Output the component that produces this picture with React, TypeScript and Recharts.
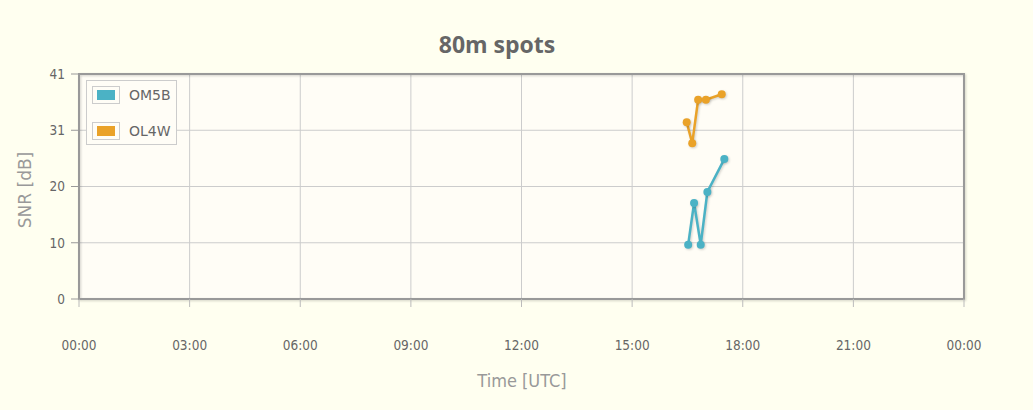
import { CartesianGrid, Legend, Line, LineChart, ReferenceArea, XAxis, YAxis } from 'recharts'

// hours UTC (decimal) and SNR in dB
const om5bTimes = [16.52, 16.68, 16.86, 17.04, 17.5]
const om5bSnr = [9.9, 17.5, 9.9, 19.5, 25.5]
const ol4wTimes = [16.48, 16.63, 16.79, 17.0, 17.43]
const ol4wSnr = [32.2, 28.4, 36.3, 36.3, 37.3]

const xTicks = [0, 3, 6, 9, 12, 15, 18, 21, 24]
const xTickLabels = ['00:00', '03:00', '06:00', '09:00', '12:00', '15:00', '18:00', '21:00', '00:00']
const yTicks = [0, 10.25, 20.5, 30.75, 41]
const yTickLabels = ['0', '10', '20', '31', '41']

const SERIES = [
  { name: 'OM5B', color: '#4bb2c5', times: om5bTimes, snr: om5bSnr },
  { name: 'OL4W', color: '#eaa228', times: ol4wTimes, snr: ol4wSnr },
]

const shadow = 'drop-shadow(1.5px 1.5px 1px rgba(0,0,0,0.18))'
const tickFont = '"DejaVu Sans Condensed", "DejaVu Sans", sans-serif'

function LegendBox() {
  return (
    <div
      style={{
        border: '1px solid #cccccc',
        background: '#fffdf6',
        padding: '4px 5px 4px 5px',
        fontFamily: '"DejaVu Sans", sans-serif',
        fontSize: 14,
        color: '#666',
      }}
    >
      {SERIES.map((s, i) => (
        <div key={s.name} style={{ display: 'flex', alignItems: 'center', height: 19, marginTop: i ? 17 : 0 }}>
          <div style={{ border: '1px solid #ccc', padding: '3px 4px', marginRight: 9 }}>
            <div style={{ width: 18, height: 10, background: s.color }} />
          </div>
          <span>{s.name}</span>
        </div>
      ))}
    </div>
  )
}

export default function App() {
  const W = 1033
  const H = 410
  return (
    <div style={{ position: 'fixed', left: 0, top: 0, width: W, height: H, background: '#fffff0', overflow: 'hidden' }}>
      <div
        style={{
          position: 'absolute',
          left: 497,
          top: 44,
          transform: 'translate(-50%, -50%)',
          fontFamily: '"Open Sans", sans-serif',
          fontWeight: 700,
          fontSize: 23,
          color: '#666',
          whiteSpace: 'nowrap',
        }}
      >
        80m spots
      </div>
      <div
        style={{
          position: 'absolute',
          left: 25,
          top: 190,
          transform: 'translate(-50%, -50%) rotate(-90deg)',
          fontFamily: '"DejaVu Sans", sans-serif',
          fontSize: 17,
          color: '#999',
          whiteSpace: 'nowrap',
        }}
      >
        SNR [dB]
      </div>
      <div
        style={{
          position: 'absolute',
          left: 522,
          top: 380,
          transform: 'translate(-50%, -50%)',
          fontFamily: tickFont,
          fontSize: 18,
          color: '#999',
          whiteSpace: 'nowrap',
        }}
      >
        Time [UTC]
      </div>
      <LineChart
        width={W}
        height={H}
        margin={{ top: 74, right: 69, bottom: 51, left: 39 }}
        style={{ position: 'absolute', left: 0, top: 0 }}
      >
        <CartesianGrid stroke="#cccccc" fill="#fffdf6" horizontalValues={yTicks} verticalValues={xTicks} />
        <XAxis
          type="number"
          dataKey="t"
          domain={[0, 24]}
          ticks={xTicks}
          interval={0}
          height={60}
          allowDuplicatedCategory={false}
          tickFormatter={(v: number) => xTickLabels[xTicks.indexOf(v)]}
          tick={{ fill: '#666', fontSize: 13.5, fontFamily: tickFont }}
          tickSize={8}
          tickMargin={33}
          tickLine={{ stroke: '#bbb' }}
          axisLine={false}
        />
        <YAxis
          type="number"
          domain={[0, 41]}
          ticks={yTicks}
          interval={0}
          width={40}
          tickFormatter={(v: number) => yTickLabels[yTicks.indexOf(v)]}
          tick={{ fill: '#666', fontSize: 13.5, fontFamily: tickFont }}
          tickSize={8}
          tickMargin={6}
          tickLine={{ stroke: '#999' }}
          axisLine={false}
        />
        <ReferenceArea
          x1={0}
          x2={24}
          y1={0}
          y2={41}
          fill="none"
          stroke="#999"
          strokeWidth={2}
          style={{ filter: shadow }}
          ifOverflow="visible"
        />
        {SERIES.map((s) => (
          <Line
            key={s.name}
            name={s.name}
            data={s.times.map((t, i) => ({ t, v: s.snr[i] }))}
            dataKey="v"
            type="linear"
            stroke={s.color}
            strokeWidth={2.5}
            dot={{ r: 4, fill: s.color, stroke: 'none' }}
            activeDot={false}
            style={{ filter: shadow }}
            isAnimationActive={false}
          />
        ))}
        <Legend
          layout="vertical"
          align="center"
          verticalAlign="middle"
          content={() => <LegendBox />}
          wrapperStyle={{ position: 'absolute', left: 86, top: 80, width: 'auto' }}
        />
      </LineChart>
    </div>
  )
}
